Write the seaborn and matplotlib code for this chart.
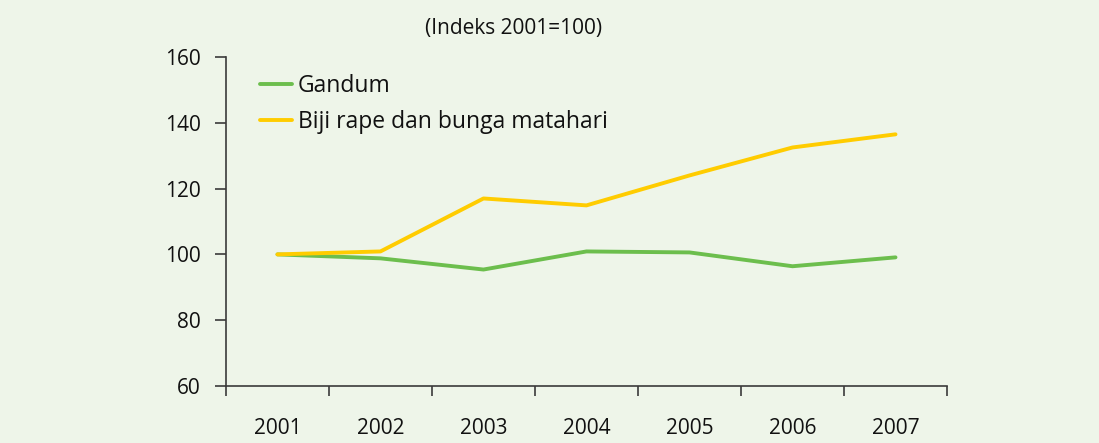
import matplotlib
matplotlib.use("Agg")
import matplotlib.pyplot as plt
import seaborn as sns
import pandas as pd
import numpy as np

years = ["2001", "2002", "2003", "2004", "2005", "2006", "2007"]
gandum = [100, 98.8, 95.4, 100.9, 100.6, 96.4, 99.1]
biji = [100, 100.9, 117.0, 114.9, 124.0, 132.5, 136.5]
series_names = ["Gandum", "Biji rape dan bunga matahari"]
yticks = [60, 80, 100, 120, 140, 160]
title = "(Indeks 2001=100)"

sns.set_theme(style="ticks")
plt.rcParams["font.family"] = ["Open Sans", "DejaVu Sans"]

bg = "#EEF5E9"
axis_col = "#3a3a3a"
colors = ["#6CBE4D", "#FFCC00"]

df = pd.DataFrame({
    "x": list(range(len(years))) * 2,
    "value": gandum + biji,
    "series": [series_names[0]] * len(years) + [series_names[1]] * len(years),
})

fig = plt.figure(figsize=(10.99, 4.43), dpi=100, facecolor=bg)
ax = fig.add_axes([0.2056, 0.1287, 0.6561, 0.7426])
ax.set_facecolor(bg)

sns.lineplot(data=df, x="x", y="value", hue="series", palette=colors,
             linewidth=2.8, ax=ax, legend=True)

ax.set_xlim(-0.5, len(years) - 0.5)
ax.set_ylim(60, 160)
ax.set_yticks(yticks)
ax.set_yticklabels([str(v) for v in yticks], fontsize=15, color="#111")
ax.set_xticks(range(len(years)))
ax.set_xticklabels(years, fontsize=15, color="#111")
ax.set_xticks(np.arange(-0.5, len(years), 1.0), minor=True)
ax.tick_params(axis="x", which="major", length=0, pad=23)
ax.tick_params(axis="x", which="minor", length=7, width=1.2, color=axis_col, direction="out")
ax.tick_params(axis="y", length=8, width=1.2, color=axis_col, direction="out", pad=10)
ax.set_xlabel("")
ax.set_ylabel("")

for s in ["top", "right"]:
    ax.spines[s].set_visible(False)
for s in ["left", "bottom"]:
    ax.spines[s].set_color(axis_col)
    ax.spines[s].set_linewidth(1.2)

leg = ax.legend(loc="upper left", bbox_to_anchor=(0.047, 0.947), frameon=False,
                borderaxespad=0, borderpad=0,
                fontsize=16.5, handlelength=1.4, handletextpad=0.25, labelspacing=0.5)
for t in leg.get_texts():
    t.set_color("#111")

fig.text(0.467, 0.935, title, ha="center", va="center", fontsize=15, color="#111")

fig.savefig("out.png", dpi=100, facecolor=bg)
